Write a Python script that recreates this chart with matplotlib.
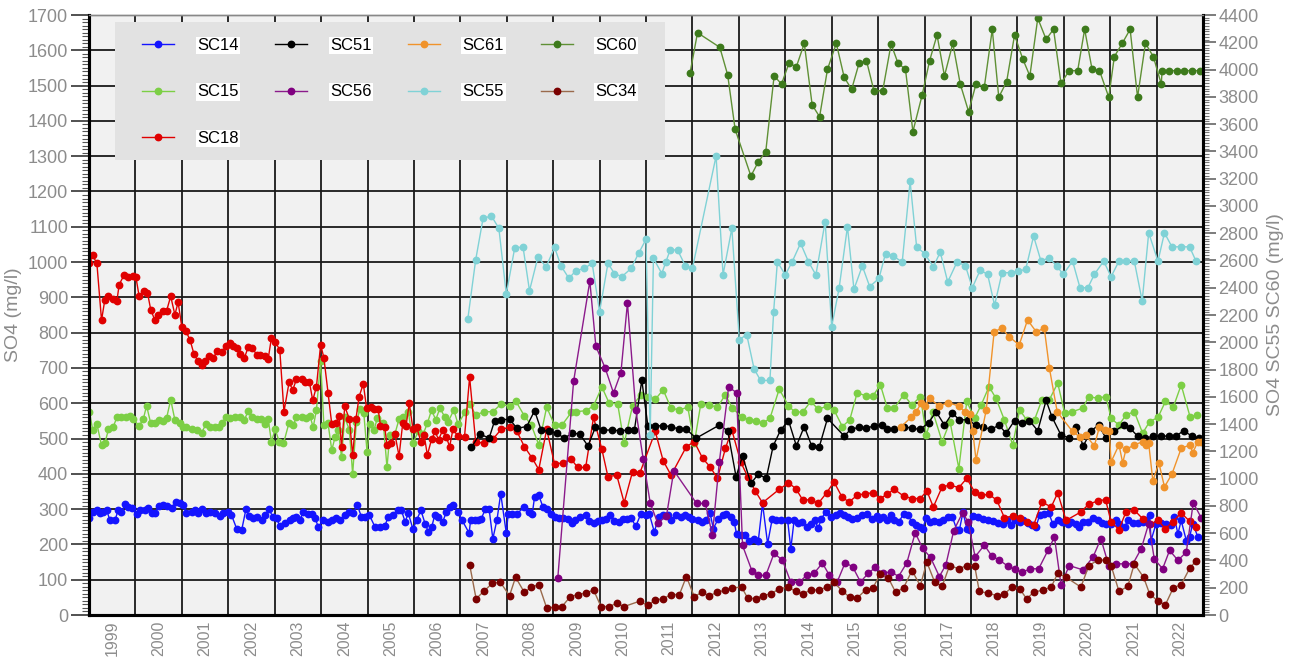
import matplotlib
matplotlib.use("Agg")
import matplotlib.pyplot as plt
from matplotlib.patches import Rectangle
from matplotlib.ticker import MultipleLocator, FixedLocator, NullFormatter

plt.rcParams['font.family'] = ['Liberation Sans', 'DejaVu Sans']

# ---- data (decimal year, SO4 mg/l) ----
sc14_year = [1999.01, 1999.08, 1999.17, 1999.24, 1999.31, 1999.38, 1999.45, 1999.56, 1999.63, 1999.70, 1999.78, 1999.85, 1999.92,
             2000.03, 2000.10, 2000.21, 2000.28, 2000.35, 2000.42, 2000.51, 2000.60, 2000.67, 2000.78, 2000.87, 2000.96,
             2001.03, 2001.10, 2001.21, 2001.28, 2001.35, 2001.43, 2001.52, 2001.61, 2001.71, 2001.82, 2001.89,
             2002.00, 2002.07, 2002.18, 2002.29, 2002.38, 2002.45, 2002.54, 2002.61, 2002.72, 2002.79, 2002.88, 2002.96,
             2003.04, 2003.11, 2003.22, 2003.33, 2003.40, 2003.47, 2003.54, 2003.62, 2003.72, 2003.80, 2003.87, 2003.94,
             2004.05, 2004.15, 2004.23, 2004.33, 2004.41, 2004.51, 2004.61, 2004.69, 2004.78, 2004.87, 2004.94,
             2005.04, 2005.16, 2005.27, 2005.37, 2005.45, 2005.55, 2005.66, 2005.73, 2005.81, 2005.88, 2005.98,
             2006.06, 2006.15, 2006.24, 2006.31, 2006.38, 2006.45, 2006.52, 2006.62, 2006.70, 2006.77, 2006.84, 2006.95,
             2007.04, 2007.19, 2007.22, 2007.31, 2007.38, 2007.45, 2007.54, 2007.62, 2007.70, 2007.79, 2007.87, 2007.99,
             2008.03, 2008.12, 2008.22, 2008.38, 2008.48, 2008.55, 2008.60, 2008.69, 2008.78, 2008.86, 2008.96,
             2009.03, 2009.12, 2009.21, 2009.32, 2009.41, 2009.48, 2009.57, 2009.70, 2009.78, 2009.87, 2009.96,
             2010.05, 2010.14, 2010.23, 2010.32, 2010.41, 2010.50, 2010.58, 2010.68, 2010.78, 2010.89, 2010.99,
             2011.07, 2011.18, 2011.27, 2011.37, 2011.47, 2011.54, 2011.65, 2011.75, 2011.85, 2011.93,
             2012.00, 2012.11, 2012.20, 2012.29, 2012.38, 2012.45, 2012.56, 2012.65, 2012.73, 2012.83, 2012.90, 2012.95,
             2013.04, 2013.14, 2013.22, 2013.33, 2013.42, 2013.51, 2013.62, 2013.72, 2013.81, 2013.90,
             2014.05, 2014.12, 2014.19, 2014.28, 2014.37, 2014.46, 2014.55, 2014.64, 2014.71, 2014.78, 2014.87, 2014.98,
             2015.09, 2015.17, 2015.27, 2015.36, 2015.44, 2015.55, 2015.66, 2015.77, 2015.87, 2015.98,
             2016.03, 2016.10, 2016.19, 2016.28, 2016.35, 2016.45, 2016.55, 2016.64, 2016.73, 2016.82, 2016.91, 2016.96,
             2017.04, 2017.11, 2017.20, 2017.31, 2017.39, 2017.50, 2017.60, 2017.70, 2017.75, 2017.83, 2017.91, 2017.97,
             2018.04, 2018.15, 2018.26, 2018.36, 2018.47, 2018.58, 2018.69, 2018.78, 2018.87, 2018.96,
             2019.05, 2019.13, 2019.23, 2019.32, 2019.40, 2019.48, 2019.58, 2019.68, 2019.76, 2019.87, 2019.96,
             2020.09, 2020.16, 2020.27, 2020.32, 2020.42, 2020.52, 2020.63, 2020.73, 2020.83, 2020.91,
             2021.02, 2021.13, 2021.20, 2021.31, 2021.38, 2021.49, 2021.59, 2021.70, 2021.77, 2021.85, 2021.88, 2021.99,
             2022.10, 2022.20, 2022.31, 2022.38, 2022.46, 2022.53, 2022.64, 2022.71, 2022.78, 2022.89]
sc14_so4 = [274, 292, 297, 290, 292, 297, 269, 269, 297, 292, 314, 307, 302,
            286, 297, 297, 302, 288, 290, 308, 311, 308, 302, 319, 316,
            311, 290, 292, 297, 288, 299, 290, 292, 290, 280, 288,
            292, 283, 245, 241, 299, 280, 274, 278, 269, 283, 299, 278,
            274, 252, 261, 269, 274, 278, 269, 292, 286, 286, 274, 250,
            269, 264, 269, 274, 269, 283, 292, 288, 311, 278, 278,
            283, 250, 250, 252, 278, 283, 297, 297, 264, 288, 243,
            269, 297, 259, 236, 248, 283, 278, 264, 292, 307, 311, 292,
            268, 232, 268, 270, 270, 273, 300, 300, 216, 270, 344, 232,
            285, 285, 287, 306, 292, 287, 335, 339, 306, 301, 287,
            278, 275, 275, 273, 261, 268, 278, 283, 266, 261, 265,
            268, 273, 283, 266, 264, 273, 273, 275, 251, 287, 283,
            287, 235, 278, 283, 284, 270, 284, 278, 283, 278,
            273, 270, 264, 268, 289, 245, 273, 283, 285, 278, 264, 230,
            228, 228, 211, 216, 211, 316, 202, 273, 270, 268,
            270, 188, 268, 261, 264, 249, 259, 268, 246, 273, 292, 278,
            283, 290, 283, 278, 273, 276, 283, 287, 273, 280,
            273, 278, 268, 283, 268, 264, 287, 283, 264, 254, 249, 245,
            276, 264, 266, 264, 268, 278, 278, 240, 240, 292, 245, 240,
            280, 278, 273, 268, 265, 261, 259, 268, 254, 268,
            264, 268, 261, 254, 249, 283, 287, 289, 259, 268, 264,
            259, 264, 259, 249, 264, 264, 276, 268, 261, 259,
            259, 268, 259, 249, 268, 261, 261, 264, 268, 283, 211, 259,
            261, 259, 254, 278, 230, 268, 211, 221, 259, 221]

sc15_year = [1999.01, 1999.08, 1999.17, 1999.27, 1999.34, 1999.42, 1999.52, 1999.60, 1999.70, 1999.80, 1999.88, 1999.95,
             2000.08, 2000.17, 2000.24, 2000.33, 2000.42, 2000.51, 2000.60, 2000.67, 2000.76, 2000.85, 2000.95,
             2001.02, 2001.10, 2001.21, 2001.32, 2001.43, 2001.52, 2001.61, 2001.71, 2001.79, 2001.86, 2001.95,
             2002.04, 2002.14, 2002.25, 2002.35, 2002.43, 2002.52, 2002.61, 2002.70, 2002.79, 2002.86, 2002.93,
             2003.01, 2003.10, 2003.19, 2003.31, 2003.40, 2003.47, 2003.58, 2003.67, 2003.76, 2003.83, 2003.90, 2003.99,
             2004.06, 2004.15, 2004.23, 2004.30, 2004.37, 2004.44, 2004.51, 2004.61, 2004.68, 2004.76, 2004.84, 2004.92, 2004.99,
             2005.05, 2005.14, 2005.21, 2005.34, 2005.42, 2005.48, 2005.59, 2005.68, 2005.77, 2005.88, 2005.98,
             2006.09, 2006.20, 2006.29, 2006.38, 2006.47, 2006.56, 2006.67, 2006.74, 2006.86, 2006.95,
             2007.11, 2007.20, 2007.33, 2007.52, 2007.70, 2007.88, 2008.06, 2008.20, 2008.38, 2008.53, 2008.69, 2008.86,
             2009.03, 2009.19, 2009.39, 2009.49, 2009.71, 2009.87, 2010.05, 2010.20, 2010.39, 2010.53, 2010.71, 2010.89,
             2011.04, 2011.20, 2011.37, 2011.54, 2011.72, 2011.90, 2012.04, 2012.18, 2012.35, 2012.54, 2012.71, 2012.86,
             2013.06, 2013.22, 2013.37, 2013.51, 2013.67, 2013.87, 2014.07, 2014.21, 2014.38, 2014.55, 2014.71, 2014.89,
             2015.05, 2015.23, 2015.39, 2015.55, 2015.73, 2015.89, 2016.05, 2016.20, 2016.35, 2016.55, 2016.73, 2016.91,
             2017.04, 2017.18, 2017.38, 2017.55, 2017.74, 2017.91, 2018.08, 2018.22, 2018.39, 2018.54, 2018.72, 2018.90,
             2019.05, 2019.20, 2019.37, 2019.53, 2019.69, 2019.87, 2020.02, 2020.18, 2020.41, 2020.54, 2020.73, 2020.91,
             2021.02, 2021.19, 2021.34, 2021.52, 2021.70, 2021.85, 2022.03, 2022.19, 2022.36, 2022.53, 2022.72, 2022.87]
sc15_so4 = [576, 524, 541, 481, 486, 526, 532, 560, 560, 560, 564, 555,
            536, 555, 593, 543, 543, 553, 551, 557, 610, 553, 543,
            532, 534, 526, 524, 517, 541, 534, 534, 534, 543, 560,
            557, 560, 560, 553, 579, 560, 555, 555, 541, 555, 491,
            526, 491, 486, 545, 538, 560, 560, 557, 564, 532, 581, 719,
            538, 543, 467, 503, 524, 447, 560, 524, 399, 548, 583, 572, 463,
            541, 524, 557, 545, 418, 510, 513, 555, 560, 576, 486,
            520, 513, 543, 581, 553, 586, 560, 548, 581, 541,
            576, 598, 567, 576, 576, 598, 591, 605, 564, 538, 482, 589,
            538, 538, 574, 576, 579, 593, 646, 602, 598, 486, 593, 624,
            619, 611, 638, 586, 581, 589, 486, 598, 595, 589, 624, 586,
            562, 553, 551, 543, 557, 640, 593, 574, 576, 605, 583, 591,
            581, 534, 553, 630, 621, 621, 652, 586, 586, 624, 595, 619,
            510, 576, 491, 548, 415, 605, 557, 595, 647, 614, 553, 482,
            581, 553, 553, 610, 610, 657, 572, 576, 586, 619, 614, 619,
            557, 538, 567, 576, 515, 548, 560, 605, 589, 652, 562, 567]

sc18_year = [1999.01, 1999.08, 1999.17, 1999.27, 1999.34, 1999.42, 1999.51, 1999.60, 1999.65, 1999.75, 1999.85, 1999.94,
             2000.01, 2000.08, 2000.18, 2000.26, 2000.33, 2000.42, 2000.49, 2000.59, 2000.67, 2000.76, 2000.85, 2000.92,
             2001.00, 2001.09, 2001.18, 2001.26, 2001.35, 2001.43, 2001.50, 2001.59, 2001.68, 2001.76, 2001.86, 2001.95,
             2002.04, 2002.11, 2002.19, 2002.25, 2002.35, 2002.43, 2002.52, 2002.61, 2002.68, 2002.79, 2002.86, 2002.93,
             2003.01, 2003.11, 2003.20, 2003.31, 2003.39, 2003.47, 2003.58, 2003.65, 2003.75, 2003.82, 2003.90, 2003.99,
             2004.06, 2004.15, 2004.23, 2004.32, 2004.39, 2004.44, 2004.51, 2004.61, 2004.68, 2004.75, 2004.82, 2004.91, 2004.98,
             2005.07, 2005.14, 2005.23, 2005.28, 2005.37, 2005.42, 2005.50, 2005.59, 2005.68, 2005.76, 2005.83, 2005.90, 2005.98,
             2006.06, 2006.15, 2006.22, 2006.29, 2006.38, 2006.46, 2006.53, 2006.62, 2006.70, 2006.77, 2006.84, 2006.95,
             2007.09, 2007.20, 2007.33, 2007.52, 2007.70, 2007.88, 2008.06, 2008.22, 2008.38, 2008.55, 2008.69, 2008.86,
             2009.03, 2009.21, 2009.39, 2009.53, 2009.70, 2009.87, 2010.05, 2010.18, 2010.37, 2010.53, 2010.71, 2010.87,
             2011.20, 2011.37, 2011.54, 2011.87, 2012.04, 2012.22, 2012.38, 2012.54, 2012.71, 2012.85,
             2013.04, 2013.19, 2013.35, 2013.51, 2013.87, 2014.07, 2014.23, 2014.38, 2014.55, 2014.71, 2014.89,
             2015.05, 2015.22, 2015.37, 2015.55, 2015.72, 2015.89, 2016.05, 2016.19, 2016.35, 2016.55, 2016.73, 2016.91,
             2017.05, 2017.19, 2017.38, 2017.55, 2017.74, 2017.91, 2018.08, 2018.22, 2018.39, 2018.56, 2018.72, 2018.90,
             2019.05, 2019.20, 2019.35, 2019.53, 2019.73, 2019.87, 2020.05, 2020.37, 2020.54, 2020.73, 2020.90,
             2021.02, 2021.19, 2021.34, 2021.52, 2021.70, 2021.86, 2022.03, 2022.19, 2022.35, 2022.53, 2022.71, 2022.85]
sc18_so4 = [996, 1019, 996, 835, 892, 903, 896, 889, 936, 962, 958, 960,
            958, 903, 918, 913, 865, 835, 851, 861, 861, 903, 851, 886,
            816, 804, 778, 740, 719, 709, 721, 735, 729, 747, 744, 761,
            771, 761, 756, 740, 729, 759, 756, 738, 738, 735, 725, 785,
            773, 752, 576, 659, 638, 668, 668, 659, 659, 608, 647, 766,
            729, 630, 541, 545, 564, 477, 591, 555, 453, 555, 619, 655, 586,
            589, 583, 583, 536, 534, 482, 486, 513, 450, 545, 536, 600, 526,
            532, 491, 510, 453, 498, 520, 496, 524, 503, 477, 526, 507,
            505, 674, 491, 486, 498, 526, 532, 520, 477, 444, 412, 526,
            428, 431, 441, 418, 418, 560, 469, 392, 396, 318, 406, 403,
            520, 437, 396, 477, 491, 444, 420, 387, 472, 524,
            434, 392, 352, 318, 356, 374, 358, 325, 327, 316, 346,
            377, 335, 320, 339, 344, 346, 330, 342, 356, 337, 330, 330,
            352, 306, 363, 368, 361, 387, 349, 339, 342, 325, 276, 280,
            276, 264, 254, 320, 306, 346, 268, 292, 314, 323, 327,
            264, 242, 292, 297, 273, 257, 268, 245, 264, 289, 266, 249]

sc51_year = [2007.24, 2007.42, 2007.62, 2007.74, 2007.88, 2008.06, 2008.22, 2008.43, 2008.60, 2008.74, 2008.92,
             2009.08, 2009.24, 2009.41, 2009.57, 2009.75, 2009.91, 2010.07, 2010.27, 2010.43, 2010.61, 2010.75, 2010.91,
             2011.04, 2011.20, 2011.37, 2011.54, 2011.72, 2011.87, 2012.08, 2012.58, 2012.76, 2012.94,
             2013.08, 2013.26, 2013.42, 2013.59, 2013.74, 2013.90, 2014.07, 2014.24, 2014.41, 2014.57, 2014.73, 2014.91,
             2015.27, 2015.41, 2015.59, 2015.75, 2015.91, 2016.08, 2016.19, 2016.35, 2016.55, 2016.73, 2016.91,
             2017.09, 2017.25, 2017.43, 2017.60, 2017.75, 2017.93, 2018.11, 2018.27, 2018.44, 2018.60, 2018.76, 2018.94,
             2019.10, 2019.26, 2019.44, 2019.62, 2019.75, 2019.94, 2020.12, 2020.27, 2020.42, 2020.59, 2020.75, 2020.91,
             2021.09, 2021.29, 2021.43, 2021.59, 2021.76, 2021.93, 2022.10, 2022.26, 2022.42, 2022.58, 2022.76, 2022.92]
sc51_so4 = [475, 513, 501, 551, 553, 555, 529, 534, 579, 524, 520,
            515, 501, 515, 513, 479, 532, 524, 524, 522, 524, 524, 665,
            536, 536, 536, 534, 526, 526, 501, 538, 522, 392,
            450, 373, 399, 387, 479, 524, 551, 479, 534, 479, 475, 557,
            507, 526, 532, 529, 536, 538, 526, 526, 534, 529, 526,
            545, 576, 538, 572, 553, 553, 538, 532, 526, 538, 515, 551,
            545, 551, 522, 608, 560, 510, 501, 532, 479, 522, 538, 501,
            520, 538, 529, 507, 501, 507, 507, 507, 507, 522, 507, 501]

sc56_year = [2009.10, 2009.44, 2009.79, 2009.92, 2010.12, 2010.30, 2010.46, 2010.60, 2010.78, 2010.94,
             2011.09, 2011.25, 2011.44, 2011.60, 2012.09, 2012.28, 2012.43, 2012.58, 2012.78, 2012.95,
             2013.08, 2013.28, 2013.42, 2013.58, 2013.76, 2013.94, 2014.12, 2014.30, 2014.46, 2014.62, 2014.80, 2014.95,
             2015.12, 2015.29, 2015.45, 2015.62, 2015.79, 2015.94, 2016.10, 2016.28, 2016.44, 2016.62, 2016.80, 2016.96,
             2017.13, 2017.32, 2017.46, 2017.63, 2017.82, 2017.94, 2018.09, 2018.29, 2018.45, 2018.61, 2018.79, 2018.94,
             2019.10, 2019.28, 2019.46, 2019.66, 2019.80, 2019.94, 2020.12, 2020.41, 2020.63, 2020.80, 2020.97,
             2021.13, 2021.31, 2021.49, 2021.67, 2021.83, 2021.95, 2022.13, 2022.28, 2022.46, 2022.64, 2022.79, 2022.96]
sc56_so4 = [105, 662, 946, 761, 700, 629, 687, 884, 581, 441,
            318, 261, 280, 409, 316, 316, 226, 434, 646, 630,
            197, 126, 112, 112, 175, 155, 93, 93, 112, 118, 147, 113,
            94, 148, 137, 94, 118, 135, 118, 123, 109, 148, 233, 189,
            163, 109, 142, 239, 290, 264, 165, 198, 167, 156, 139, 129,
            121, 131, 131, 183, 221, 86, 140, 128, 164, 216, 140,
            145, 145, 145, 188, 259, 159, 131, 183, 155, 178, 318, 276]

sc61_year = [2016.50, 2016.71, 2016.82, 2016.93, 2017.00, 2017.11, 2017.32, 2017.50, 2017.74, 2017.88, 2017.97,
             2018.04, 2018.11, 2018.33, 2018.50, 2018.66, 2018.83, 2019.04, 2019.22, 2019.41, 2019.58, 2019.69, 2019.86,
             2020.19, 2020.34, 2020.47, 2020.66, 2020.77, 2020.88, 2020.98, 2021.02, 2021.19, 2021.27, 2021.34,
             2021.52, 2021.70, 2021.77, 2021.83, 2021.92, 2022.05, 2022.17, 2022.33, 2022.53, 2022.72, 2022.78, 2022.89, 2022.96]
sc61_so4 = [534, 560, 576, 600, 592, 614, 591, 602, 592, 574, 570,
            520, 439, 581, 802, 813, 788, 765, 836, 802, 813, 700, 575,
            520, 505, 510, 479, 534, 524, 520, 434, 482, 431, 469,
            482, 491, 482, 486, 380, 431, 363, 399, 472, 482, 460, 491, 491]

sc34_year = [2007.20, 2007.34, 2007.52, 2007.69, 2007.86, 2008.06, 2008.19, 2008.38, 2008.53, 2008.69, 2008.86,
             2009.03, 2009.19, 2009.37, 2009.53, 2009.70, 2009.87, 2010.03, 2010.20, 2010.37, 2010.53, 2010.86,
             2011.04, 2011.20, 2011.37, 2011.54, 2011.72, 2011.87, 2012.04, 2012.20, 2012.36, 2012.54, 2012.71, 2012.86,
             2013.06, 2013.19, 2013.37, 2013.51, 2013.69, 2013.87, 2014.05, 2014.23, 2014.38, 2014.55, 2014.73, 2014.89,
             2015.05, 2015.22, 2015.39, 2015.55, 2015.73, 2015.89, 2016.05, 2016.22, 2016.38, 2016.55, 2016.73, 2016.91,
             2017.05, 2017.22, 2017.38, 2017.54, 2017.74, 2017.91, 2018.08, 2018.18, 2018.36, 2018.56, 2018.72, 2018.89,
             2019.05, 2019.20, 2019.35, 2019.55, 2019.73, 2019.87, 2020.05, 2020.37, 2020.54, 2020.73, 2020.90,
             2021.02, 2021.19, 2021.38, 2021.52, 2021.72, 2021.85, 2022.03, 2022.19, 2022.36, 2022.53, 2022.72, 2022.85]
sc34_so4 = [143, 46, 69, 90, 93, 55, 107, 64, 79, 86, 20,
            22, 24, 52, 58, 62, 71, 24, 24, 33, 24, 39,
            27, 43, 46, 58, 58, 109, 52, 64, 55, 64, 71, 77,
            79, 48, 46, 55, 60, 74, 79, 67, 60, 71, 71, 79,
            93, 69, 50, 48, 71, 77, 117, 105, 64, 77, 126, 83,
            150, 93, 81, 140, 131, 140, 140, 67, 62, 55, 60, 79,
            74, 46, 64, 71, 79, 118, 107, 79, 140, 155, 156,
            140, 67, 81, 145, 107, 60, 39, 29, 77, 86, 134, 153]

# right axis series
sc55_year = [2007.16, 2007.33, 2007.49, 2007.67, 2007.83, 2007.99, 2008.17, 2008.35, 2008.49, 2008.67, 2008.85,
             2009.03, 2009.17, 2009.34, 2009.49, 2009.67, 2009.84, 2010.00, 2010.18, 2010.32, 2010.48, 2010.68, 2010.84,
             2011.00, 2011.09, 2011.16, 2011.34, 2011.43, 2011.52, 2011.68, 2011.85, 2012.00, 2012.51, 2012.66, 2012.85,
             2013.01, 2013.17, 2013.33, 2013.47, 2013.67, 2013.75, 2013.83, 2014.00, 2014.15, 2014.33, 2014.50, 2014.66, 2014.86,
             2015.00, 2015.16, 2015.34, 2015.48, 2015.66, 2015.82, 2016.02, 2016.16, 2016.33, 2016.52, 2016.69, 2016.83,
             2017.00, 2017.19, 2017.34, 2017.50, 2017.70, 2017.88, 2018.03, 2018.20, 2018.36, 2018.51, 2018.67, 2018.87,
             2019.01, 2019.18, 2019.35, 2019.51, 2019.68, 2019.85, 2019.99, 2020.19, 2020.35, 2020.52, 2020.66, 2020.86,
             2021.02, 2021.19, 2021.35, 2021.52, 2021.69, 2021.83, 2022.03, 2022.17, 2022.33, 2022.53, 2022.71, 2022.85]
sc55_so4 = [2168, 2603, 2909, 2926, 2836, 2354, 2689, 2701, 2378, 2623, 2554,
            2696, 2559, 2469, 2525, 2542, 2579, 2224, 2579, 2504, 2481, 2542, 2652,
            2755, 1320, 2616, 2504, 2591, 2677, 2677, 2559, 2542, 3366, 2496, 2836,
            2019, 2056, 1803, 1720, 1720, 2224, 2591, 2494, 2591, 2726, 2591, 2494, 2885,
            2114, 2396, 2848, 2389, 2559, 2408, 2469, 2651, 2632, 2588, 3180, 2700,
            2651, 2554, 2661, 2442, 2588, 2563, 2400, 2529, 2498, 2271, 2510, 2510,
            2522, 2534, 2778, 2595, 2620, 2559, 2498, 2595, 2400, 2400, 2498, 2595,
            2481, 2595, 2595, 2595, 2302, 2803, 2595, 2803, 2700, 2700, 2700, 2595]

sc60_year = [2011.95, 2012.11, 2012.59, 2012.76, 2012.92, 2013.26, 2013.42, 2013.58, 2013.76, 2013.92,
             2014.08, 2014.24, 2014.41, 2014.58, 2014.74, 2014.91, 2015.10, 2015.27, 2015.43, 2015.59, 2015.75, 2015.91,
             2016.10, 2016.28, 2016.43, 2016.59, 2016.75, 2016.95, 2017.11, 2017.27, 2017.43, 2017.61, 2017.77, 2017.95,
             2018.11, 2018.29, 2018.46, 2018.60, 2018.77, 2018.94, 2019.12, 2019.27, 2019.44, 2019.62, 2019.78, 2019.94,
             2020.12, 2020.30, 2020.45, 2020.61, 2020.77, 2020.97, 2021.09, 2021.26, 2021.43, 2021.59, 2021.76, 2021.93,
             2022.10, 2022.12, 2022.26, 2022.43, 2022.60, 2022.77, 2022.94]
sc60_so4 = [3977, 4270, 4163, 3960, 3562, 3219, 3324, 3398, 3953, 3894,
            4046, 4021, 4192, 3740, 3654, 4002, 4192, 3943, 3855, 4046, 4065, 3845,
            3845, 4187, 4046, 4002, 3545, 3814, 4065, 4253, 3953, 4192, 3894, 3692,
            3894, 3875, 4295, 3797, 3912, 4253, 4075, 3953, 4376, 4222, 4295, 3899,
            3992, 3992, 4295, 4002, 3992, 3797, 4095, 4192, 4295, 3797, 4192, 4095,
            3894, 3992, 3992, 3992, 3992, 3992, 3992]

year_labels = list(range(1999, 2023))

GRAY = '#8c8c8c'

fig = plt.figure(figsize=(13.01, 6.6), dpi=100)
ax = fig.add_axes([89 / 1301, 45 / 660, 1114 / 1301, 600 / 660])
ax.set_facecolor('#f1f1f1')
ax2 = ax.twinx()

style = dict(marker='o', markersize=4.6, linewidth=1.0)
h14, = ax.plot(sc14_year, sc14_so4, color='#1414ff', label='SC14', **style)
h15, = ax.plot(sc15_year, sc15_so4, color='#7ccf45', label='SC15', **style)
h18, = ax.plot(sc18_year, sc18_so4, color='#e00000', label='SC18', **style)
h51, = ax.plot(sc51_year, sc51_so4, color='black', label='SC51', **style)
h56, = ax.plot(sc56_year, sc56_so4, color='#8b1a8b', markerfacecolor='#800080',
               markeredgecolor='#800080', label='SC56', **style)
h61, = ax.plot(sc61_year, sc61_so4, color='#f0932b', label='SC61', **style)
h34, = ax.plot(sc34_year, sc34_so4, color='#9a6a4c', markerfacecolor='#7a0000',
               markeredgecolor='#7a0000', label='SC34', **style)
h55, = ax2.plot(sc55_year, sc55_so4, color='#80d2d6', label='SC55', **style)
h60, = ax2.plot(sc60_year, sc60_so4, color='#5f9035', markerfacecolor='#3d7a1c',
                markeredgecolor='#3d7a1c', label='SC60', **style)

# axes ranges / ticks
ax.set_xlim(1999, 2023)
ax.set_ylim(0, 1700)
ax2.set_ylim(0, 4400)

ax.xaxis.set_major_locator(FixedLocator(list(range(1999, 2024))))
ax.xaxis.set_major_formatter(NullFormatter())
ax.xaxis.set_minor_locator(FixedLocator([y + 0.5 for y in year_labels]))
ax.set_xticklabels([str(y) for y in year_labels], minor=True, rotation=90)
ax.tick_params(axis='x', which='both', length=0)
ax.tick_params(axis='x', which='minor', pad=4, labelsize=11.5, labelcolor=GRAY)

ax.yaxis.set_major_locator(MultipleLocator(100))
ax.yaxis.set_minor_locator(MultipleLocator(10))
ax.tick_params(axis='y', which='major', length=13, width=1.2, color='#333333',
               labelsize=13, labelcolor=GRAY, pad=2)
ax.tick_params(axis='y', which='minor', length=5, width=0.8, color='#555555')

ax2.yaxis.set_major_locator(MultipleLocator(200))
ax2.yaxis.set_minor_locator(MultipleLocator(20))
ax2.tick_params(axis='y', which='major', length=9, width=1.2, color='#666666',
                labelsize=13, labelcolor=GRAY, pad=2)
ax2.tick_params(axis='y', which='minor', length=4, width=0.8, color='#777777')

ax.grid(True, which='major', color='#1a1a1a', linewidth=1.3)
ax.set_axisbelow(True)

for a in (ax, ax2):
    a.spines['left'].set_linewidth(2.2)
    a.spines['bottom'].set_linewidth(2.2)
    a.spines['right'].set_linewidth(2.2)
    a.spines['top'].set_color('#888888')
    a.spines['top'].set_linewidth(1.0)

ax.set_ylabel('SO4 (mg/l)', color=GRAY, fontsize=14, labelpad=4)
ax2.set_ylabel('SO4 SC55 SC60 (mg/l)', color=GRAY, fontsize=14, labelpad=6)

# legend: grey panel + frameless legend on top
panel = Rectangle((26 / 1114, 455 / 600), 550 / 1114, 138 / 600, transform=ax2.transAxes,
                  facecolor='#e2e2e2', edgecolor='none', zorder=8)
ax2.add_patch(panel)
handles = [h14, h15, h18, h51, h56, h61, h55, h60, h34]
leg = ax2.legend(handles=handles, labels=[h.get_label() for h in handles],
                 ncol=4, loc='upper left', bbox_to_anchor=(53 / 1114, 577 / 600),
                 fontsize=12, frameon=False, handlelength=1.92, handletextpad=1.38,
                 columnspacing=2.18, labelspacing=1.89, borderpad=0, borderaxespad=0)
leg.set_zorder(10)
for t in leg.get_texts():
    t.set_bbox(dict(facecolor='white', edgecolor='none', pad=1.0))

fig.savefig('out.png', dpi=100)
